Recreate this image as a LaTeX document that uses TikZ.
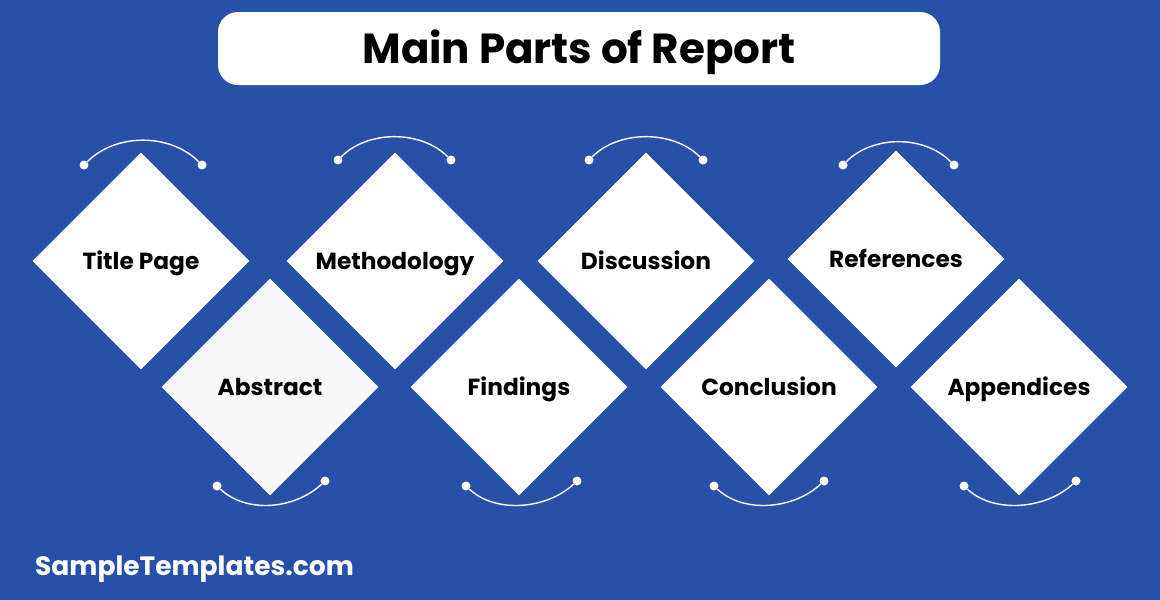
\documentclass[tikz,border=0pt]{standalone}
\usepackage{fontspec}
\setmainfont{Poppins}
\usetikzlibrary{shapes.geometric}
\definecolor{bgblue}{RGB}{39,80,169}
\definecolor{offwhite}{RGB}{248,248,248}

\begin{document}
\begin{tikzpicture}[x=1pt, y=-1pt,
  part/.style={diamond, aspect=1, fill=white, minimum size=217pt, inner sep=0pt,
    text height=16.3pt, text depth=0pt,
    font=\fontsize{23.3}{26}\selectfont\bfseries},
  dot/.style={circle, fill=white, minimum size=9pt, inner sep=0pt},
  swing/.style={white, line width=1.4pt}]
  % background and frame
  \fill[bgblue] (0,0) rectangle (1160,600);

  % title banner
  \node[fill=white, rounded corners=20pt, minimum width=722pt, minimum height=73pt,
    text height=29.4pt, text depth=0pt,
    font=\fontsize{42}{46}\selectfont\bfseries] (title) at (579,48.5) {Main Parts of Report};

  % upper row
  \node[part] (titlepage)   at (141,261) {Title Page};
  \node[part] (methodology) at (395,261) {Methodology};
  \node[part] (discussion)  at (646,261) {Discussion};
  \node[part] (references)  at (896,259) {References};

  % lower row
  \node[part, fill=offwhite] (abstract) at (270,387) {Abstract};
  \node[part] (findings)   at (519,387) {Findings};
  \node[part] (conclusion) at (769,387) {Conclusion};
  \node[part] (appendices) at (1019,387) {Appendices};

  % arcs over the upper row
  \node[dot] (tpl) at (84,165) {};  \node[dot] (tpr) at (202,165) {};
  \node[dot] (mel) at (338,160) {}; \node[dot] (mer) at (451,160) {};
  \node[dot] (dil) at (589,160) {}; \node[dot] (dir) at (703,160) {};
  \node[dot] (rel) at (843,165) {}; \node[dot] (rer) at (954,165) {};
  \draw[swing] (tpl) .. controls +(32,-32) and +(-32,-32) .. (tpr);
  \draw[swing] (mel) .. controls +(30,-30) and +(-30,-30) .. (mer);
  \draw[swing] (dil) .. controls +(30,-30) and +(-30,-30) .. (dir);
  \draw[swing] (rel) .. controls +(30,-30) and +(-30,-30) .. (rer);

  % arcs under the lower row
  \node[dot] (abl) at (217,486) {};  \node[dot] (abr) at (325,481) {};
  \node[dot] (fil) at (466,486) {};  \node[dot] (fir) at (577,481) {};
  \node[dot] (col) at (714,486) {};  \node[dot] (cor) at (824,481) {};
  \node[dot] (apl) at (964,486) {};  \node[dot] (apr) at (1076,481) {};
  \draw[swing] (abl) .. controls +(30,28) and +(-30,28) .. (abr);
  \draw[swing] (fil) .. controls +(30,28) and +(-30,28) .. (fir);
  \draw[swing] (col) .. controls +(30,28) and +(-30,28) .. (cor);
  \draw[swing] (apl) .. controls +(30,28) and +(-30,28) .. (apr);

  % footer mark
  \node[anchor=west, inner sep=0pt, white, text height=18.5pt, text depth=0pt,
    font=\fontsize{26.5}{29}\selectfont\bfseries]
    (site) at (35,566) {SampleTemplates.com};
\end{tikzpicture}
\end{document}
